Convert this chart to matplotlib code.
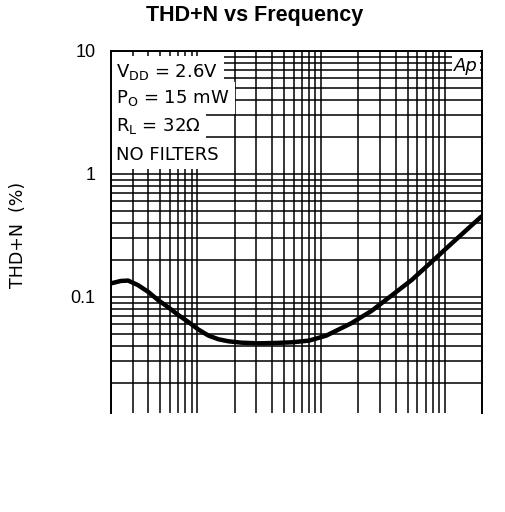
import matplotlib

matplotlib.use("Agg")

import matplotlib.pyplot as plt
from matplotlib.ticker import LogLocator, NullFormatter

# THD+N curve (frequency in Hz, THD+N in %)
freq_hz = [20, 24, 27.5, 33, 40, 48, 58, 70, 85, 102, 123, 148, 179, 228, 313, 431, 581, 800,
           1100, 1750, 2550, 3700, 5400, 7850, 11400, 16600, 20000]
thd_pct = [0.129, 0.135, 0.136, 0.125, 0.110, 0.0945, 0.0825, 0.0714, 0.0623, 0.0543, 0.0485,
           0.0453, 0.0436, 0.0425, 0.0420, 0.0423, 0.0428, 0.0442, 0.0485, 0.0611,
           0.0769, 0.1025, 0.1375, 0.1936, 0.2733, 0.385, 0.4555]

y_ticks = [0.1, 1, 10]
y_tick_labels = ["0.1", "1", "10"]
conditions = ["V$_{\\mathrm{DD}}$ = 2.6V", "P$_{\\mathrm{O}}$ = 15 mW", "R$_{\\mathrm{L}}$ = 32\u03a9", "NO FILTERS"]

fig = plt.figure(figsize=(5.05, 5.12), dpi=100)
ax = fig.add_axes([0.2198, 0.1934, 0.7347, 0.707])

ax.set_xscale("log")
ax.set_yscale("log")
ax.set_xlim(20, 20000)
ax.set_ylim(0.0114, 10)

ax.xaxis.set_minor_locator(LogLocator(base=10, subs=range(2, 10)))
ax.yaxis.set_minor_locator(LogLocator(base=10, subs=range(2, 10)))
ax.xaxis.set_major_formatter(NullFormatter())
ax.xaxis.set_minor_formatter(NullFormatter())
ax.yaxis.set_minor_formatter(NullFormatter())
ax.set_yticks(y_ticks)
ax.set_yticklabels(y_tick_labels, fontsize=13, family="Liberation Sans")
ax.tick_params(which="both", length=0, pad=11)

ax.grid(True, which="both", color="black", linewidth=1.1)
for side in ("left", "right", "top"):
    ax.spines[side].set_linewidth(1.4)
ax.spines["bottom"].set_visible(False)

ax.plot(freq_hz, thd_pct, color="black", linewidth=3.2, solid_joinstyle="round",
        solid_capstyle="butt", zorder=5)

ax.set_ylabel("THD+N  (%)", fontsize=12.5)
ax.yaxis.set_label_coords(-0.251, 0.492)
ax.yaxis.label.set_verticalalignment("center")

line_y = [0.942, 0.870, 0.793, 0.713]
for text, yy in zip(conditions, line_y):
    ax.text(0.014, yy, text, transform=ax.transAxes, fontsize=13, va="center", ha="left",
            bbox=dict(facecolor="white", edgecolor="none", pad=4), zorder=2)

ax.text(0.988, 0.958, "Ap", transform=ax.transAxes, fontsize=13, style="italic",
        va="center", ha="right", bbox=dict(facecolor="white", edgecolor="none", pad=1.5), zorder=2)

fig.text(0.505, 0.97, "THD+N vs Frequency", ha="center", va="center", fontsize=15.5,
         fontweight="bold", family="Liberation Sans")

fig.savefig("out.png", dpi=100)
plt.close(fig)
